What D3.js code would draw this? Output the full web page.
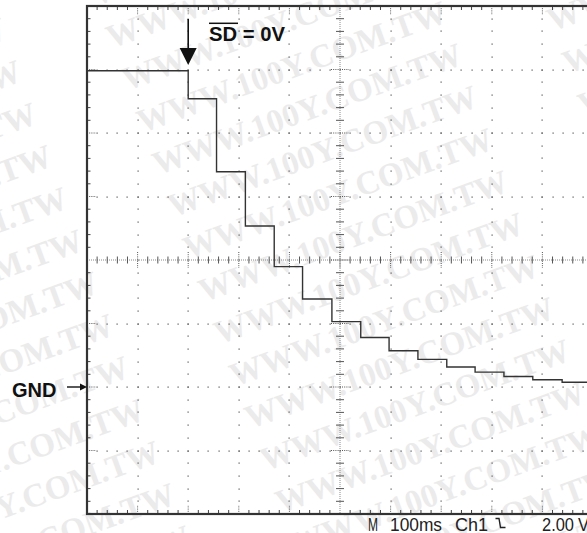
<!DOCTYPE html>
<html>
<head>
<meta charset="utf-8">
<script src="https://cdn.jsdelivr.net/npm/d3@7"></script>
<style>
  html, body { margin: 0; padding: 0; background: #fff; }
  svg { display: block; }
</style>
</head>
<body>
<svg id="chart" width="587" height="533"></svg>
<script>
// ---- data ----
const stepTimes = [0, 200, 256, 313, 370, 426, 484, 541, 597, 654, 711, 767, 824, 881, 939, 1000]; // ms
const levels    = [9.96, 9.08, 6.78, 5.07, 3.79, 2.77, 2.06, 1.56, 1.14, 0.87, 0.63, 0.47, 0.33, 0.23, 0.15, 0.15]; // V
const timeMajorTicks = d3.range(0, 1001, 100);   // 100 ms / div
const timeMinorTicks = d3.range(0, 1001, 20);
const voltMajorTicks = d3.range(-4, 12.01, 2);   // 2 V / div
const voltMinorTicks = d3.range(-4, 12.01, 0.4);
const triggerTime = 200;
const labels = { trig: "SD = 0V", gnd: "GND" };
const statusTokens = [["M", 368, 10], ["100ms", 390, 52], ["Ch1", 455, 33], ["2.00", 542, 32], ["V", 578, 11]];
const watermark = "WWW.100Y.COM.TW";

const W = 587, H = 533;
const svg = d3.select("#chart");

const x = d3.scaleLinear().domain([0, 1000]).range([87, 593]);
const y = d3.scaleLinear().domain([-4, 12]).range([514, 6]);

// ---- watermark ----
const wm = svg.append("g").attr("transform", "rotate(-20)");
for (let m = -2; m <= 1; m++) {
  for (let k = -4; k <= 13; k++) {
    wm.append("text")
      .attr("x", 88 + 420 * m)
      .attr("y", 162 + 45 * k)
      .attr("dy", "0.35em")
      .attr("font-family", "'Liberation Serif','Times New Roman',serif")
      .attr("font-weight", "bold")
      .attr("font-size", 33)
      .attr("fill", "#ebebeb")
      .text(watermark);
  }
}

// ---- grid ----
const grid = svg.append("g");
const cx = x(500), cy = y(4);
const isMajorT = t => Math.abs(t % 100) < 1e-6;
const isMajorV = v => Math.abs(((v + 4) / 2) - Math.round((v + 4) / 2)) < 1e-6;

// dots along major horizontal lines
voltMajorTicks.forEach(v => {
  if (v === -4 || v === 12 || v === 4) return;
  timeMinorTicks.forEach(t => {
    if (t === 0) return;
    grid.append("rect").attr("x", Math.round(x(t)) - 0.5).attr("y", Math.round(y(v)) - 0.5)
      .attr("width", 1.2).attr("height", 1.2).attr("fill", "#555");
  });
  grid.append("line").attr("x1", x(0)).attr("x2", x(0) + 9).attr("y1", y(v)).attr("y2", y(v))
    .attr("stroke", "#555").attr("stroke-dasharray", "1,1.2");
});
// dots along major vertical lines
timeMajorTicks.forEach(t => {
  if (t === 0 || t === 1000 || t === 500) return;
  voltMinorTicks.forEach(v => {
    if (Math.abs(v + 4) < 1e-6 || Math.abs(v - 12) < 1e-6) return;
    grid.append("rect").attr("x", Math.round(x(t)) - 0.5).attr("y", Math.round(y(v)) - 0.5)
      .attr("width", 1.2).attr("height", 1.2).attr("fill", "#555");
  });
  [[y(12), y(12) + 9], [y(-4), y(-4) - 9]].forEach(([a, b]) => {
    grid.append("line").attr("x1", x(t)).attr("x2", x(t)).attr("y1", a).attr("y2", b)
      .attr("stroke", "#555").attr("stroke-dasharray", "1,1.2");
  });
});

// border minor ticks
timeMinorTicks.forEach(t => {
  if (isMajorT(t)) return;
  grid.append("line").attr("x1", x(t)).attr("x2", x(t)).attr("y1", y(12)).attr("y2", y(12) + 4)
    .attr("stroke", "#444").attr("stroke-width", 1);
  grid.append("line").attr("x1", x(t)).attr("x2", x(t)).attr("y1", y(-4)).attr("y2", y(-4) - 4)
    .attr("stroke", "#444").attr("stroke-width", 1);
});
voltMinorTicks.forEach(v => {
  if (isMajorV(v)) return;
  grid.append("line").attr("x1", x(0)).attr("x2", x(0) + 3.5).attr("y1", y(v)).attr("y2", y(v))
    .attr("stroke", "#444").attr("stroke-width", 1);
});

// center cross lines
grid.append("line").attr("x1", x(0)).attr("x2", W).attr("y1", cy).attr("y2", cy)
  .attr("stroke", "#8a8a8a").attr("stroke-width", 1).attr("stroke-dasharray", "1,1");
grid.append("line").attr("x1", cx).attr("x2", cx).attr("y1", y(12)).attr("y2", y(-4))
  .attr("stroke", "#8a8a8a").attr("stroke-width", 1).attr("stroke-dasharray", "1,1");
timeMinorTicks.forEach(t => {
  const len = isMajorT(t) ? 8 : 3.5;
  grid.append("line").attr("x1", x(t)).attr("x2", x(t)).attr("y1", cy - len).attr("y2", cy + len)
    .attr("stroke", "#555").attr("stroke-width", 1).attr("stroke-dasharray", isMajorT(t) ? "1,1.2" : null);
});
voltMinorTicks.forEach(v => {
  const len = isMajorV(v) ? 9 : 4;
  grid.append("line").attr("x1", cx - len).attr("x2", cx + len).attr("y1", y(v)).attr("y2", y(v))
    .attr("stroke", "#555").attr("stroke-width", 1).attr("stroke-dasharray", isMajorV(v) ? "1,1.2" : null);
});

// frame
svg.append("rect").attr("x", x(0)).attr("y", y(12)).attr("width", x(1000) - x(0)).attr("height", y(-4) - y(12))
  .attr("fill", "none").attr("stroke", "#333").attr("stroke-width", 2.2);

// ---- trace ----
const pts = stepTimes.map((t, i) => [t, levels[i]]);
svg.append("path").datum(pts)
  .attr("d", d3.line().x(d => x(d[0])).y(d => y(d[1])).curve(d3.curveStepAfter))
  .attr("fill", "none").attr("stroke", "#333").attr("stroke-width", 1.4);

// ---- annotations ----
const ax = x(triggerTime);
svg.append("line").attr("x1", ax).attr("x2", ax).attr("y1", 19).attr("y2", 50)
  .attr("stroke", "#111").attr("stroke-width", 1.6);
svg.append("path").attr("d", `M${ax - 8.5},48 L${ax + 8.5},48 L${ax},65 Z`).attr("fill", "#111");

svg.append("text").attr("x", 209).attr("y", 41)
  .attr("font-family", "'Liberation Sans',Arial,sans-serif").attr("font-weight", "bold")
  .attr("font-size", 20).attr("fill", "#111")
  .attr("textLength", 76).attr("lengthAdjust", "spacingAndGlyphs").text(labels.trig);
svg.append("line").attr("x1", 209).attr("x2", 238).attr("y1", 23.3).attr("y2", 23.3)
  .attr("stroke", "#111").attr("stroke-width", 1.5);

svg.append("text").attr("x", 12).attr("y", 396.5)
  .attr("font-family", "'Liberation Sans',Arial,sans-serif").attr("font-weight", "bold")
  .attr("font-size", 20).attr("fill", "#111").text(labels.gnd);
const gy = y(0);
svg.append("line").attr("x1", 67).attr("x2", 81).attr("y1", gy).attr("y2", gy)
  .attr("stroke", "#111").attr("stroke-width", 1.4);
svg.append("path").attr("d", `M80,${gy - 3.5} L87,${gy} L80,${gy + 3.5} Z`).attr("fill", "#111");

// ---- status line ----
statusTokens.forEach(([s, sx, len]) => {
  svg.append("text").attr("x", sx).attr("y", 531)
    .attr("font-family", "'Liberation Sans',Arial,sans-serif")
    .attr("font-size", 19).attr("fill", "#222")
    .attr("textLength", len).attr("lengthAdjust", "spacingAndGlyphs").text(s);
});
svg.append("path").attr("d", "M495.5,518.5 H499 L500.5,527.5 H505.5")
  .attr("fill", "none").attr("stroke", "#222").attr("stroke-width", 1.4);
</script>
</body>
</html>
